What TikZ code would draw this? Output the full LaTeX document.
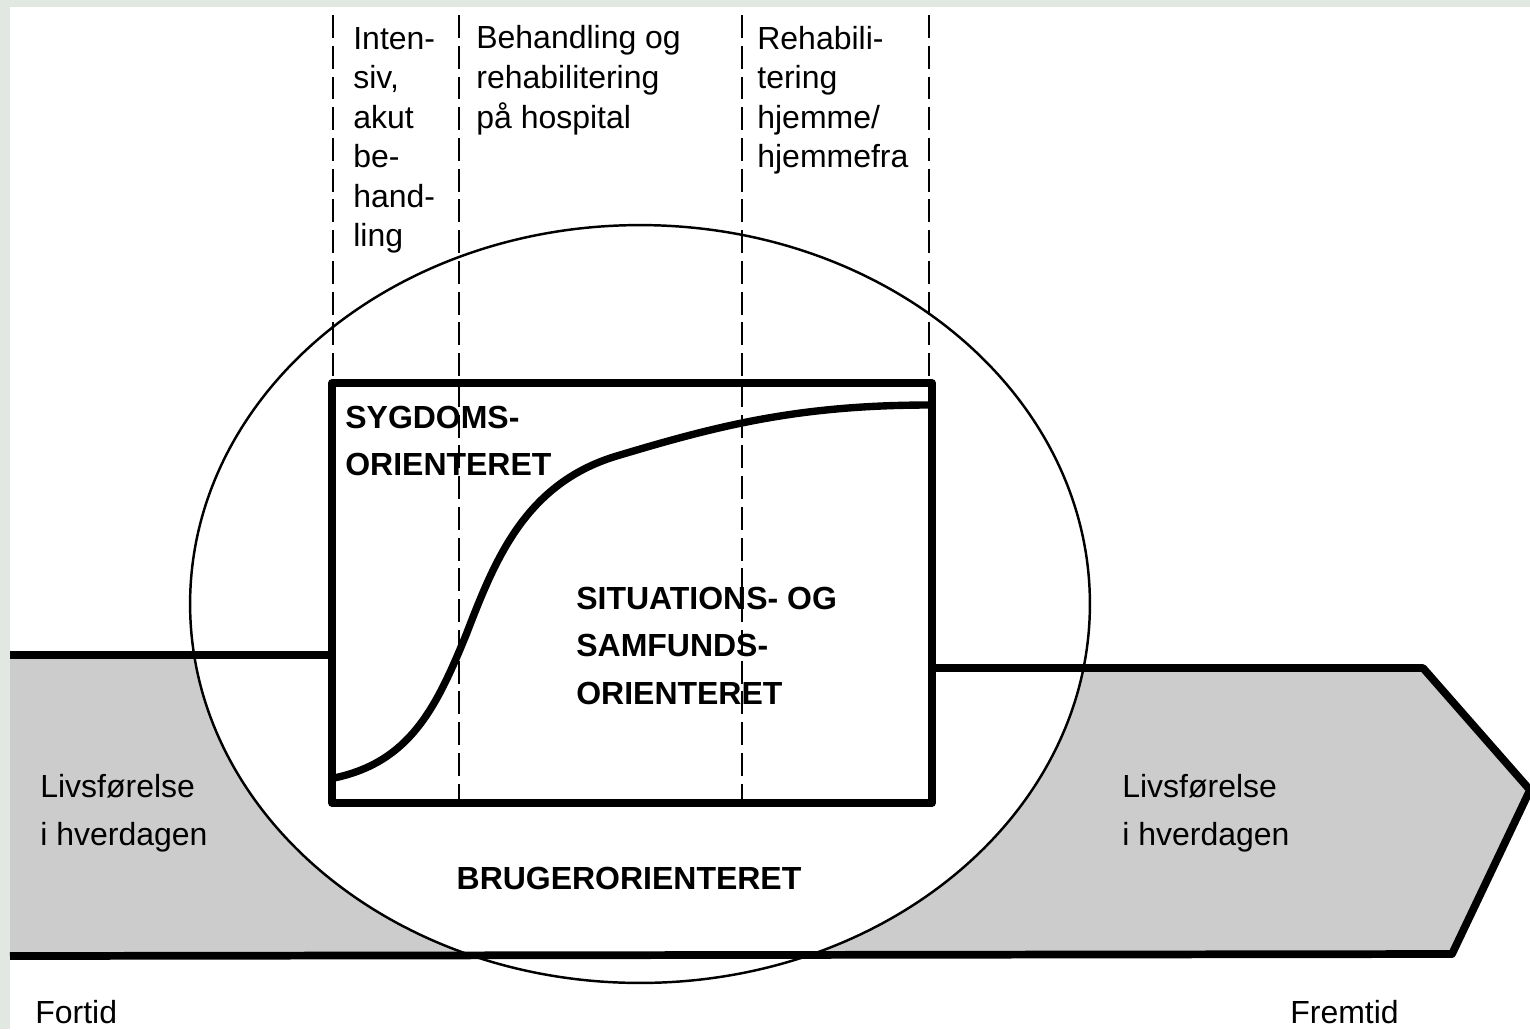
\documentclass[tikz,border=0pt]{standalone}
\usepackage{fontspec}
\setmainfont{Liberation Sans}
\usetikzlibrary{shapes.geometric}
\definecolor{bgcol}{HTML}{E0E8E1}
\definecolor{bandgrey}{HTML}{CCCCCC}
\begin{document}
\begin{tikzpicture}[x=0.02cm,y=-0.02cm,
  heavy/.style={line width=4.4pt, line join=round},
  rim/.style={line width=1.4pt},
  phase/.style={line width=0.8pt, dash pattern=on 13pt off 4.5pt},
  regtxt/.style={font=\fontsize{18.2}{22.5}\selectfont, align=left, inner sep=0pt, anchor=base west},
  lifetxt/.style={font=\fontsize{18.2}{27.2}\selectfont, align=left, inner sep=0pt, anchor=base west},
  boldtxt/.style={font=\fontsize{18.2}{27}\selectfont\bfseries, align=left, inner sep=0pt, anchor=base west}]
\useasboundingbox (0,0) rectangle (1530,1029);
\fill[bgcol] (0,0) rectangle (1530,1029);
\fill[white] (10,7) rectangle (1530,1029);

% band (life course)
\coordinate (bl1) at (10,655);
\coordinate (bl2) at (332,655);
\coordinate (br1) at (932,668);
\coordinate (br2) at (1423,668);
\coordinate (tip) at (1530,790);
\coordinate (br3) at (1452,954);
\coordinate (bb) at (10,956);
\fill[bandgrey] (bl1) -- (bl2) -- (332,668) -- (br1) -- (br2) -- (tip) -- (br3) -- (bb) -- cycle;

% ellipse
\node (oval) [ellipse, draw, fill=white, rim, inner sep=0pt, minimum width=18cm, minimum height=15.16cm] at (640,604) {};

% box
\node (box) [draw, heavy, inner sep=0pt, minimum width=12cm, minimum height=8.4cm] at (632,593) {};

% band outlines
\draw[heavy, line cap=butt] (bl1) -- (bl2);
\draw[heavy] (br1) -- (br2) -- (tip) -- (br3) -- (bb);

% phase separators
\coordinate (d1t) at (333,15);  \coordinate (d1b) at (333,383);
\coordinate (d2t) at (459,15);  \coordinate (d2b) at (459,802);
\coordinate (d3t) at (742,15);  \coordinate (d3b) at (742,802);
\coordinate (d4t) at (929,15);  \coordinate (d4b) at (929,383);
\draw[phase] (d1t) -- (d1b);
\draw[phase] (d2t) -- (d2b);
\draw[phase] (d3t) -- (d3b);
\draw[phase] (d4t) -- (d4b);

% S-curve
\coordinate (s0) at (334,778);
\coordinate (s1) at (466,635);
\coordinate (s2) at (620,455);
\coordinate (s3) at (930,405);
\draw[line width=4.2pt, line cap=round] (s0) .. controls (410,762) and (436,708) .. (s1)
  .. controls (495,560) and (525,482) .. (s2)
  .. controls (720,425) and (800,405) .. (s3);

% texts (anchored at the baseline of the last line)
\node (p1) [regtxt] at (353,246.7) {Inten-\\siv,\\akut\\be-\\hand-\\ling};
\node (p2) [regtxt] at (476,128) {Behandling og\\rehabilitering\\på hospital};
\node (p3) [regtxt] at (757,167.6) {Rehabili-\\tering\\hjemme/\\hjemmefra};
\node (sy) [boldtxt] at (345,475.5) {SYGDOMS-\\ORIENTERET};
\node (si) [boldtxt] at (576,704) {SITUATIONS- OG\\SAMFUNDS-\\ORIENTERET};
\node (br) [font=\fontsize{18.2}{27}\selectfont\bfseries, inner sep=0pt, anchor=base] at (629,889) {BRUGERORIENTERET};
\node (lv1) [lifetxt] at (40,845) {Livsførelse\\i hverdagen};
\node (lv2) [lifetxt] at (1122,845) {Livsførelse\\i hverdagen};
\node (ft) [regtxt] at (35,1023) {Fortid};
\node (fm) [regtxt] at (1290,1023) {Fremtid};
\end{tikzpicture}
\end{document}
